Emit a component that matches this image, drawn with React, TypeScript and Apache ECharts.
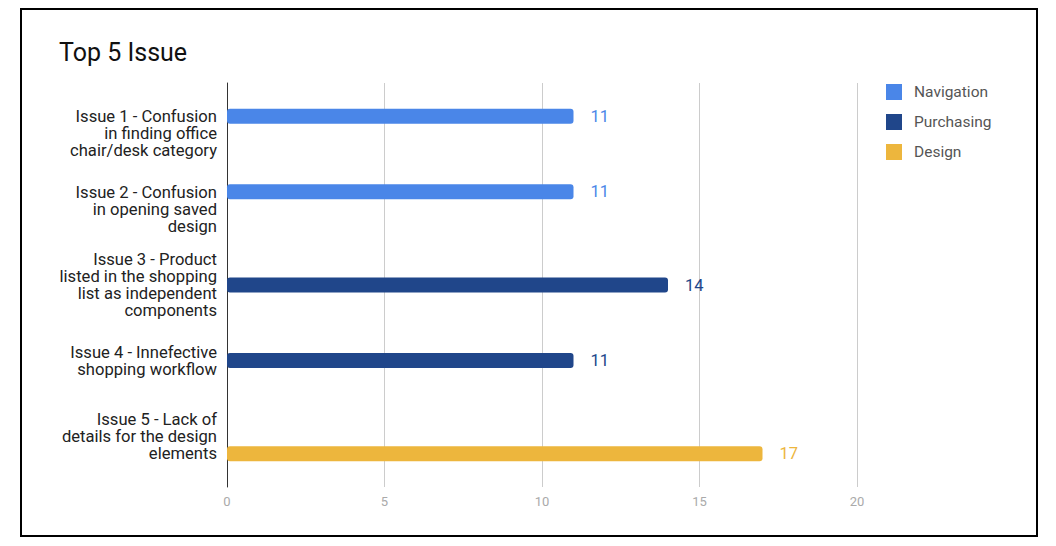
import React, { useEffect, useRef } from "react";
import * as echarts from "echarts";

const categories = [
  "Issue 1 - Confusion\nin finding office\nchair/desk category",
  "Issue 2 - Confusion\nin opening saved\ndesign",
  "Issue 3 - Product\nlisted in the shopping\nlist as independent\ncomponents",
  "Issue 4 - Innefective\nshopping workflow",
  "Issue 5 - Lack of\ndetails for the design\nelements",
];
const seriesNames = ["Navigation", "Purchasing", "Design"];
const navigation = [11, 11, "-", "-", "-"];
const purchasing = ["-", "-", 14, 11, "-"];
const design = ["-", "-", "-", "-", 17];
const colors = ["#4a86e8", "#20468a", "#edb63d"];
const xTicks = { min: 0, max: 20, interval: 5 };

export default function App() {
  const ref = useRef<HTMLDivElement>(null);
  useEffect(() => {
    if (!ref.current) return;
    const chart = echarts.init(ref.current, undefined, { renderer: "svg" });
    const font = "Roboto, Arial, sans-serif";
    const values = [navigation, purchasing, design];
    chart.setOption({
      animation: false,
      textStyle: { fontFamily: font },
      title: {
        text: "Top 5 Issue",
        left: 54,
        top: 35,
        textStyle: { fontSize: 25, fontWeight: "normal", color: "#111", fontFamily: font },
      },
      legend: {
        orient: "vertical",
        left: 881,
        top: 79,
        itemWidth: 16,
        itemHeight: 16,
        itemGap: 14,
        icon: "rect",
        data: seriesNames,
        textStyle: { fontSize: 15.5, color: "#555", fontFamily: font, padding: [0, 0, 0, 7] },
      },
      graphic: [
        {
          type: "rect",
          shape: { x: 21, y: 9, width: 1016, height: 527 },
          style: { fill: "none", stroke: "#000", lineWidth: 2 },
          silent: true,
        },
      ],
      grid: [
        { left: 227, right: 199, top: 83, bottom: 59 },
        { left: 227, right: 199, top: 96, bottom: 72 },
      ],
      xAxis: [
        {
          type: "value",
          gridIndex: 0,
          ...xTicks,
          axisLine: { show: false },
          axisTick: { show: false },
          splitLine: { show: true, lineStyle: { color: "#cccccc", width: 1 } },
          axisLabel: { color: "#aaaaaa", fontSize: 13, margin: 8, fontFamily: font },
        },
        {
          type: "value",
          gridIndex: 1,
          ...xTicks,
          show: false,
          splitLine: { show: false },
        },
      ],
      yAxis: [
        {
          type: "value",
          gridIndex: 0,
          axisLine: { show: true, lineStyle: { color: "#333", width: 1 } },
          axisLabel: { show: false },
          axisTick: { show: false },
          splitLine: { show: false },
        },
        {
          type: "category",
          gridIndex: 1,
          inverse: true,
          data: categories,
          axisLine: { show: false },
          axisTick: { show: false },
          axisLabel: {
            color: "#222",
            fontSize: 16.6,
            lineHeight: 17,
            margin: 10,
            align: "right",
            fontFamily: font,
          },
        },
      ],
      series: seriesNames.map((name, i) => ({
        name,
        type: "bar",
        xAxisIndex: 1,
        yAxisIndex: 1,
        data: values[i],
        barWidth: 15,
        barGap: "17%",
        itemStyle: { color: colors[i], borderRadius: 3 },
        label: {
          show: true,
          position: "right",
          distance: 17,
          color: colors[i],
          fontSize: 16.5,
          fontFamily: font,
        },
      })),
    });
    return () => chart.dispose();
  }, []);
  return (
    <div
      ref={ref}
      style={{ position: "fixed", left: 0, top: 0, width: 1056, height: 546, background: "#fff" }}
    />
  );
}
